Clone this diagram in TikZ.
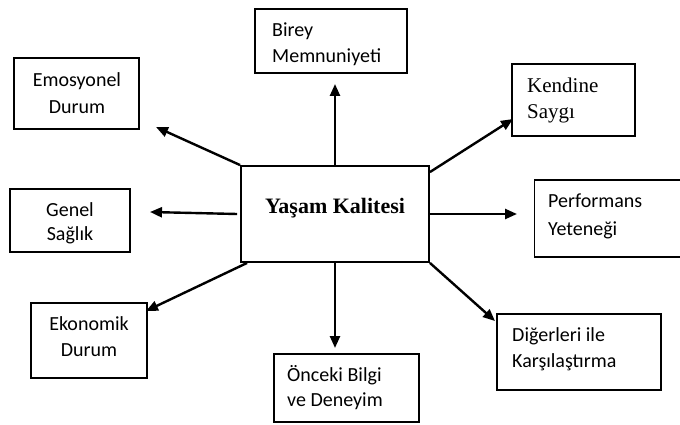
\documentclass[tikz,border=0pt]{standalone}
\usepackage{fontspec}
\setmainfont{Liberation Serif}
\newfontfamily\calibfont{Carlito}
\usetikzlibrary{arrows.meta}
\begin{document}
\begin{tikzpicture}[x=1pt,y=-1pt,
  frame/.style={draw,line width=1.9pt,inner sep=0pt},
  txt/.style={inner sep=0pt,font=\calibfont\fontsize{20}{26}\selectfont},
  ltxt/.style={txt,align=left,anchor=west},
  ctxt/.style={txt,align=center,anchor=center},
  conn/.style={line width=2.4pt,-{Triangle[length=12pt,width=10pt]}},
]
\useasboundingbox (0,0) rectangle (680,425);
% centre
\node[frame,minimum width=188pt,minimum height=96pt] (c) at (335,214) {};
\node[inner sep=0pt,anchor=base,font=\bfseries\fontsize{22}{26}\selectfont] (ct) at (335,213) {Yaşam Kalitesi};
% boxes
\node[frame,minimum width=152pt,minimum height=64pt] (birey) at (331,41) {};
\node[ltxt] (birey-t) at (272,44) {Birey\\Memnuniyeti};
\node[frame,minimum width=125pt,minimum height=71pt] (emo) at (76.5,93.5) {};
\node[ctxt,font=\calibfont\fontsize{20}{27}\selectfont] (emo-t) at (77,93) {Emosyonel\\Durum};
\node[frame,minimum width=123pt,minimum height=72pt] (kendi) at (573.5,100) {};
\node[inner sep=0pt,align=left,anchor=west,font=\fontsize{21}{26}\selectfont] (kendi-t) at (527,100) {Kendine\\Saygı};
\node[frame,minimum width=147pt,minimum height=77pt] (perf) at (608,218.5) {};
\node[ltxt,font=\calibfont\fontsize{20}{28}\selectfont] (perf-t) at (548,216) {Performans\\Yeteneği};
\node[frame,minimum width=120pt,minimum height=63pt] (genel) at (70,220.5) {};
\node[ctxt,font=\calibfont\fontsize{20}{24}\selectfont] (genel-t) at (70,223.5) {Genel\\Sağlık};
\node[frame,minimum width=116pt,minimum height=75pt] (eko) at (89,340.5) {};
\node[ctxt] (eko-t) at (89,337) {Ekonomik\\Durum};
\node[frame,minimum width=145pt,minimum height=68pt] (once) at (346.5,388) {};
\node[ltxt,font=\calibfont\fontsize{20}{25}\selectfont] (once-t) at (287,388) {Önceki Bilgi\\ve Deneyim};
\node[frame,minimum width=164pt,minimum height=76pt] (diger) at (579,352) {};
\node[ltxt] (diger-t) at (512,349.5) {Diğerleri ile\\Karşılaştırma};
% arrow tips
\coordinate (tup) at (335,84);
\coordinate (tul) at (156,127);
\coordinate (tl) at (150,212);
\coordinate (tdl) at (146,311);
\coordinate (td) at (335,348);
\coordinate (tdr) at (495,321);
\coordinate (tr) at (517,214);
\coordinate (tur) at (513,119);
\draw[conn] (c.north) -- (tup);
\draw[conn] (c.north west) -- (tul);
\draw[conn] ([xshift=-3pt]c.west) -- (tl);
\draw[conn] ([xshift=7pt]c.south west) -- (tdl);
\draw[conn] (c.south) -- (td);
\draw[conn] (c.south east) -- (tdr);
\draw[conn] (c.east) -- (tr);
\draw[conn] ([yshift=-7pt]c.north east) -- (tur);
\end{tikzpicture}
\end{document}
